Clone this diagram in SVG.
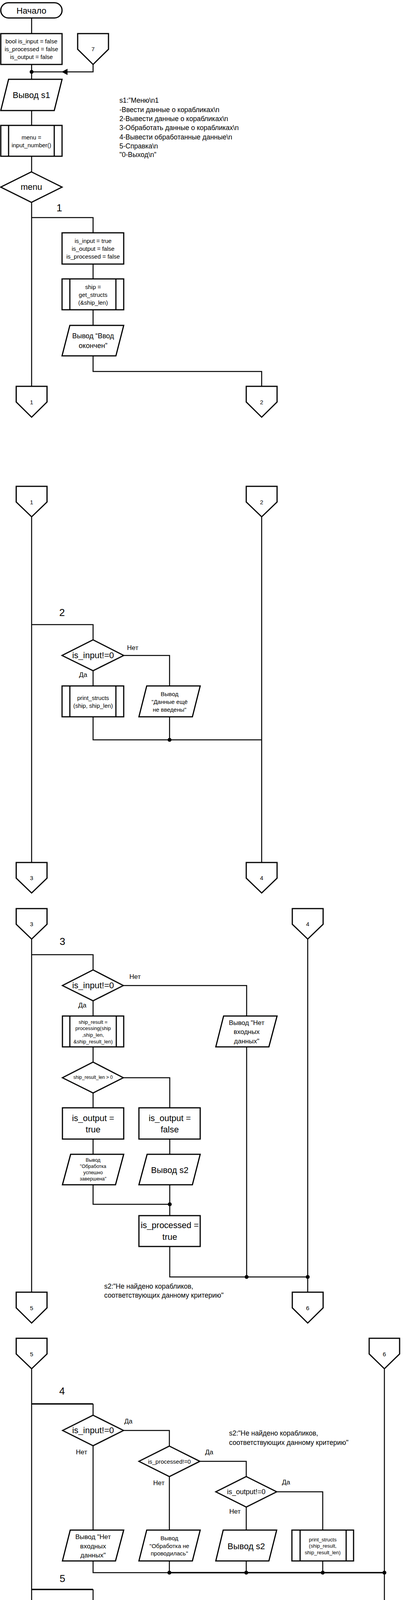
<svg xmlns="http://www.w3.org/2000/svg" width="1066" height="4764" viewBox="0 0 1066 4764">
<style>
text { font-family: "Liberation Sans", Arial, sans-serif; fill: #000; }
.c { text-anchor: middle; dominant-baseline: central; }
.n { dominant-baseline: central; font-size: 17.5px; }
.s { fill: #fff; stroke: #000; stroke-width: 3; stroke-linejoin: miter; }
.i { fill: none; stroke: #000; stroke-width: 3; }
.l { fill: none; stroke: #000; stroke-width: 2.5; }
.lt { fill: none; stroke: #000; stroke-width: 3.5; }
.d { fill: #000; }
.z12 { font-size: 12.5px; } .z13 { font-size: 13px; } .z15 { font-size: 15px; } .z17 { font-size: 17px; } .z18 { font-size: 18px; }
.z22 { font-size: 22px; } .z26 { font-size: 26px; } .z30 { font-size: 30px; }
</style>
<rect width="1066" height="4764" fill="#fff"/>

<g id="connectors">
  <!-- section 1 -->
  <path class="l" d="M81,46 V86 M81,165 V203 M81,283 V321 M81,400 V440 M81,518 V989 M81,557 H238.5 V596 M238.5,676 V714 M238.5,793 V833 M238.5,911 V951 H670.5 V989 M238.5,165 V184 H81"/>
  <circle class="d" cx="81" cy="184" r="5"/>
  <polygon class="d" points="158,184 173,176 173,192"/>
  <!-- section 2 -->
  <path class="l" d="M81,1323 V2208 M670.5,1323 V2208 M81,1599 H238.5 V1638 M317,1678 H434.5 V1756 M238.5,1717 V1756 M238.5,1835 V1894 H670.5 M434.5,1835 V1894"/>
  <circle class="d" cx="434.5" cy="1894" r="5"/>
  <!-- section 3 -->
  <path class="l" d="M81,2404 V3308 M788.5,2404 V3308 M81,2444 H238.5 V2483 M316,2523 H632 V2601 M238.5,2562 V2601 M238.5,2680 V2719 M316,2759 H435 V2836 M238.5,2798 V2836 M238.5,2916 V2955 M435,2916 V2955 M238.5,3033 V3083 H435 M435,3033 V3112 M435,3191 V3269 H788.5 M632,2680 V3269"/>
  <circle class="d" cx="435" cy="3083" r="5"/>
  <circle class="d" cx="632" cy="3269" r="5"/>
  <circle class="d" cx="788.5" cy="3269" r="5"/>
  <!-- section 4 -->
  <path class="l" d="M81,3504 V4331 M81,4409 V4449 M985,3504 V4468 M238.5,3594 V3623 M316.5,3662 H434 V3702 M512,3741 H631 V3780 M709,3819 H827 V3917 M238.5,3701 V3917 M434,3780 V3917 M631,3858 V3917 M238.5,3996 V4026 H434 M434,3996 V4026 M631,3996 V4026 M827,3996 V4026 M238.5,4069 V4099 M238.5,4178 V4213 H985 M985,4546 V4585 M908,4507 H828 V4547"/>
  <path class="lt" d="M81,3594 H238.5 M434,4026 H985 M81,4069 H238.5 M81,4273 H985 M81,4449 H985"/>
  <circle class="d" cx="434" cy="4026" r="5"/>
  <circle class="d" cx="631" cy="4026" r="5"/>
  <circle class="d" cx="827" cy="4026" r="5"/>
  <circle class="d" cx="985" cy="4026" r="5"/>
  <circle class="d" cx="985" cy="4213" r="5"/>
  <circle class="d" cx="985" cy="4273" r="5"/>
  <circle class="d" cx="985" cy="4449" r="5"/>
  <polygon class="d" points="863,4507 878,4499 878,4515"/>
  <!-- case labels -->
  <text class="c z26" x="152" y="532">1</text>
  <text class="c z26" x="159" y="1568">2</text>
  <text class="c z26" x="160" y="2410">3</text>
  <text class="c z26" x="159" y="3561">4</text>
  <text class="c z26" x="160" y="4041">5</text>
  <text class="c z26" x="139" y="4238">0</text>
  <text class="z30" x="92" y="4310" dominant-baseline="central">default</text>
  <!-- yes/no labels -->
  <text class="c z17" x="340" y="1658">Нет</text>
  <text class="c z17" x="213" y="1727">Да</text>
  <text class="c z17" x="346" y="2500">Нет</text>
  <text class="c z17" x="211" y="2573">Да</text>
  <text class="c z17" x="329" y="3638">Да</text>
  <text class="c z17" x="209" y="3717">Нет</text>
  <text class="c z17" x="536" y="3717">Да</text>
  <text class="c z17" x="407" y="3796">Нет</text>
  <text class="c z17" x="733" y="3794">Да</text>
  <text class="c z17" x="602" y="3869">Нет</text>
  <text class="c z17" x="882" y="4484">Да</text>
  <text class="c z17" x="1013" y="4558">Нет</text>
</g>

<!-- ===== Section 1 ===== -->
<g id="start">
  <rect class="s" x="2" y="7" width="157" height="39" rx="19.5"/>
  <text class="c z22" x="80.5" y="27">Начало</text>
</g>
<g id="init">
  <rect class="s" x="2" y="86" width="157" height="79"/>
  <text class="c z15" x="80.5" y="105">bool is_input = false</text>
  <text class="c z15" x="80.5" y="125">is_processed = false</text>
  <text class="c z15" x="80.5" y="145">is_output = false</text>
</g>
<g id="conn7top">
  <polygon class="s" points="199,86 278,86 278,126 238.5,165 199,126"/>
  <text class="c z15" x="238.5" y="125">7</text>
</g>
<g id="out_s1">
  <polygon class="s" points="22,203 159,203 139,283 2,283"/>
  <text class="c z22" x="80.5" y="243">Вывод s1</text>
</g>
<g id="note_s1">
  <text class="n" x="306" y="257">s1:”Меню\n1</text>
  <text class="n" x="306" y="281">-Ввести данные о корабликах\n</text>
  <text class="n" x="306" y="304">2-Вывести данные о корабликах\n</text>
  <text class="n" x="306" y="327">3-Обработать данные о корабликах\n</text>
  <text class="n" x="306" y="351">4-Вывести обработанные данные\n</text>
  <text class="n" x="306" y="374">5-Справка\n</text>
  <text class="n" x="306" y="396">"0-Выход\n”</text>
</g>
<g id="input_menu">
  <rect class="s" x="2" y="321" width="157" height="79"/>
  <path class="i" d="M22,321 V400 M139,321 V400"/>
  <text class="c z15" x="80.5" y="351">menu =</text>
  <text class="c z15" x="80.5" y="371">input_number()</text>
</g>
<g id="switch_menu">
  <polygon class="s" points="80.5,440 159,479 80.5,518 2,479"/>
  <text class="c z22" x="80.5" y="478">menu</text>
</g>
<g id="set_flags">
  <rect class="s" x="159" y="596" width="158" height="80"/>
  <text class="c z15" x="238.5" y="616">is_input = true</text>
  <text class="c z15" x="238.5" y="636">is_output = false</text>
  <text class="c z15" x="238.5" y="656">is_processed = false</text>
</g>
<g id="get_structs">
  <rect class="s" x="159" y="714" width="158" height="79"/>
  <path class="i" d="M179,714 V793 M297,714 V793"/>
  <text class="c z15" x="238.5" y="734">ship =</text>
  <text class="c z15" x="238.5" y="754">get_structs</text>
  <text class="c z15" x="238.5" y="774">(&amp;ship_len)</text>
</g>
<g id="out_input_done">
  <polygon class="s" points="179,833 317,833 297,911 159,911"/>
  <text class="c z18" x="238.5" y="860">Вывод “Ввод</text>
  <text class="c z18" x="238.5" y="885">окончен”</text>
</g>
<g id="conn1a">
  <polygon class="s" points="41.5,989 120.5,989 120.5,1029 81,1068 41.5,1029"/>
  <text class="c z15" x="81" y="1029">1</text>
</g>
<g id="conn2a">
  <polygon class="s" points="631,989 710,989 710,1029 670.5,1068 631,1029"/>
  <text class="c z15" x="670.5" y="1029">2</text>
</g>

<!-- ===== Section 2 ===== -->
<g id="conn1b">
  <polygon class="s" points="41.5,1245 120.5,1245 120.5,1285 81,1323 41.5,1285"/>
  <text class="c z15" x="81" y="1285">1</text>
</g>
<g id="conn2b">
  <polygon class="s" points="631,1245 710,1245 710,1285 670.5,1323 631,1285"/>
  <text class="c z15" x="670.5" y="1285">2</text>
</g>
<g id="if_input2">
  <polygon class="s" points="238.5,1638 317,1678 238.5,1717 159,1678"/>
  <text class="c z22" x="238.5" y="1677">is_input!=0</text>
</g>
<g id="print_structs">
  <rect class="s" x="159" y="1756" width="158" height="79"/>
  <path class="i" d="M179,1756 V1835 M297,1756 V1835"/>
  <text class="c z15" x="238.5" y="1786">print_structs</text>
  <text class="c z15" x="238.5" y="1806">(ship, ship_len)</text>
</g>
<g id="out_no_data2">
  <polygon class="s" points="376,1756 513,1756 493,1835 356,1835"/>
  <text class="c z15" x="434.5" y="1776">Вывод</text>
  <text class="c z15" x="434.5" y="1796">"Данные ещё</text>
  <text class="c z15" x="434.5" y="1816">не введены"</text>
</g>
<g id="conn3a">
  <polygon class="s" points="41.5,2208 120.5,2208 120.5,2248 81,2286 41.5,2248"/>
  <text class="c z15" x="81" y="2247">3</text>
</g>
<g id="conn4a">
  <polygon class="s" points="631,2208 710,2208 710,2248 670.5,2286 631,2248"/>
  <text class="c z15" x="670.5" y="2247">4</text>
</g>

<!-- ===== Section 3 ===== -->
<g id="conn3b">
  <polygon class="s" points="41.5,2326 120.5,2326 120.5,2366 81,2404 41.5,2366"/>
  <text class="c z15" x="81" y="2365">3</text>
</g>
<g id="conn4b">
  <polygon class="s" points="749,2326 828,2326 828,2366 788.5,2404 749,2366"/>
  <text class="c z15" x="788.5" y="2365">4</text>
</g>
<g id="if_input3">
  <polygon class="s" points="238.5,2483 316,2523 238.5,2562 160,2523"/>
  <text class="c z22" x="238.5" y="2522">is_input!=0</text>
</g>
<g id="processing">
  <rect class="s" x="160" y="2601" width="157" height="79"/>
  <path class="i" d="M179,2601 V2680 M298,2601 V2680"/>
  <text class="c z13" x="238.5" y="2616">ship_result =</text>
  <text class="c z13" x="238.5" y="2632">processing(ship</text>
  <text class="c z13" x="238.5" y="2649">,ship_len,</text>
  <text class="c z13" x="238.5" y="2666">&amp;ship_result_len)</text>
</g>
<g id="out_no_input3">
  <polygon class="s" points="573,2601 710,2601 689,2680 553,2680"/>
  <text class="c z17" x="632" y="2618">Вывод "Нет</text>
  <text class="c z17" x="632" y="2641">входных</text>
  <text class="c z17" x="632" y="2665">данных"</text>
</g>
<g id="if_result_len">
  <polygon class="s" points="238.5,2719 316,2759 238.5,2798 160,2759"/>
  <text class="c" x="238.5" y="2758" font-size="12px">ship_result_len &gt; 0</text>
</g>
<g id="set_output_true">
  <rect class="s" x="160" y="2836" width="157" height="80"/>
  <text class="c z22" x="238.5" y="2862">is_output =</text>
  <text class="c z22" x="238.5" y="2891">true</text>
</g>
<g id="set_output_false">
  <rect class="s" x="356" y="2836" width="157" height="80"/>
  <text class="c z22" x="435" y="2862">is_output =</text>
  <text class="c z22" x="435" y="2891">false</text>
</g>
<g id="out_success">
  <polygon class="s" points="181,2955 317,2955 296,3033 160,3033"/>
  <text class="c z12" x="238.5" y="2970">Вывод</text>
  <text class="c z12" x="238.5" y="2986">"Обработка</text>
  <text class="c z12" x="238.5" y="3002">успешно</text>
  <text class="c z12" x="238.5" y="3018">завершена"</text>
</g>
<g id="out_s2_3">
  <polygon class="s" points="377,2955 513,2955 493,3033 356,3033"/>
  <text class="c z22" x="435" y="2995">Вывод s2</text>
</g>
<g id="set_processed">
  <rect class="s" x="356" y="3112" width="157" height="79"/>
  <text class="c z22" x="435" y="3136">is_processed =</text>
  <text class="c z22" x="435" y="3166">true</text>
</g>
<g id="note_s2_a">
  <text class="n" x="267" y="3293">s2:"Не найдено корабликов,</text>
  <text class="n" x="267" y="3316">соответствующих данному критерию"</text>
</g>
<g id="conn5a">
  <polygon class="s" points="41.5,3308 120.5,3308 120.5,3348 81,3387 41.5,3348"/>
  <text class="c z15" x="81" y="3348">5</text>
</g>
<g id="conn6a">
  <polygon class="s" points="749,3308 828,3308 828,3348 788.5,3387 749,3348"/>
  <text class="c z15" x="788.5" y="3348">6</text>
</g>

<!-- ===== Section 4 ===== -->
<g id="conn5b">
  <polygon class="s" points="41.5,3426 120.5,3426 120.5,3466 81,3504 41.5,3466"/>
  <text class="c z15" x="81" y="3466">5</text>
</g>
<g id="conn6b">
  <polygon class="s" points="946,3426 1024,3426 1024,3466 985,3504 946,3466"/>
  <text class="c z15" x="985" y="3466">6</text>
</g>
<g id="if_input4">
  <polygon class="s" points="238.5,3623 316.5,3662 238.5,3701 160.5,3662"/>
  <text class="c z22" x="238.5" y="3661">is_input!=0</text>
</g>
<g id="if_processed">
  <polygon class="s" points="434,3702 512,3741 434,3780 356,3741"/>
  <text class="c z15" x="434" y="3741">is_processed!=0</text>
</g>
<g id="if_output">
  <polygon class="s" points="631,3780 709,3819 631,3858 553,3819"/>
  <text class="c z18" x="631" y="3819">is_output!=0</text>
</g>
<g id="note_s2_b">
  <text class="n" x="587" y="3669">s2:"Не найдено корабликов,</text>
  <text class="n" x="587" y="3693">соответствующих данному критерию"</text>
</g>
<g id="out_no_input4">
  <polygon class="s" points="180,3917 317,3917 296,3996 160,3996"/>
  <text class="c z17" x="238.5" y="3934">Вывод "Нет</text>
  <text class="c z17" x="238.5" y="3958">входных</text>
  <text class="c z17" x="238.5" y="3981">данных"</text>
</g>
<g id="out_not_processed">
  <polygon class="s" points="376,3917 513,3917 493,3996 356,3996"/>
  <text class="c z15" x="434" y="3937">Вывод</text>
  <text class="c z15" x="434" y="3957">"Обработка не</text>
  <text class="c z15" x="434" y="3976">проводилась"</text>
</g>
<g id="out_s2_4">
  <polygon class="s" points="572,3917 709,3917 689,3996 553,3996"/>
  <text class="c z22" x="631" y="3958">Вывод s2</text>
</g>
<g id="print_result">
  <rect class="s" x="748" y="3917" width="158" height="79"/>
  <path class="i" d="M769,3917 V3996 M887,3917 V3996"/>
  <text class="c z13" x="827" y="3941">print_structs</text>
  <text class="c z13" x="827" y="3957">(ship_result,</text>
  <text class="c z13" x="827" y="3974">ship_result_len)</text>
</g>
<g id="out_s3">
  <polygon class="s" points="180,4099 317,4099 296,4178 160,4178"/>
  <text class="c z22" x="238.5" y="4139">Вывод s3</text>
</g>
<g id="out_wrong">
  <polygon class="s" points="23,4331 159,4331 139,4409 3,4409"/>
  <text class="c z13" x="81" y="4345">Вывод</text>
  <text class="c z13" x="81" y="4362">"Неправильно</text>
  <text class="c z13" x="81" y="4378">введён</text>
  <text class="c z13" x="81" y="4395">пункт меню”</text>
</g>
<g id="note_s3">
  <text class="n" x="84" y="4482">s3:"Эта программа обрабатывает заданный массив данных о корабликах.\n</text>
  <text class="n" x="84" y="4506">Кораблик имеет пять полей:\n</text>
  <text class="n" x="84" y="4530">1. Имя-строка от 1 до 30 символов\n</text>
  <text class="n" x="84" y="4553">2. Тип-строка от 1 до 20 символов\n</text>
  <text class="n" x="84" y="4576">3. Положение по x-целое число от -999999 до 9999999\n</text>
  <text class="n" x="84" y="4600">4. Положение по y-целое число от -999999 до 9999999\n</text>
  <text class="n" x="84" y="4622">5. Положение по z-целое число от -999999 до 9999999\n</text>
  <text class="n" x="84" y="4646">Результат обработки - новый массив данных состоящий из элементов</text>
  <text class="n" x="84" y="4669">исходного\n</text>
  <text class="n" x="84" y="4692">массива, которые соответствуют заданным критериям.\n</text>
  <text class="n" x="84" y="4716">Русские буквы вводить запрещено.\n</text>
  <text class="n" x="84" y="4739">pause"</text>
</g>
<g id="if_menu">
  <polygon class="s" points="985,4468 1063,4507 985,4546 908,4507"/>
  <text class="c z22" x="985" y="4506">menu != 0</text>
</g>
<g id="conn7bot">
  <polygon class="s" points="789,4547 867,4547 867,4587 828,4625 789,4587"/>
  <text class="c z15" x="828" y="4586">7</text>
</g>
<g id="end">
  <rect class="s" x="907" y="4585" width="156" height="40" rx="20"/>
  <text class="c z22" x="985" y="4605">Конец</text>
</g>
</svg>
